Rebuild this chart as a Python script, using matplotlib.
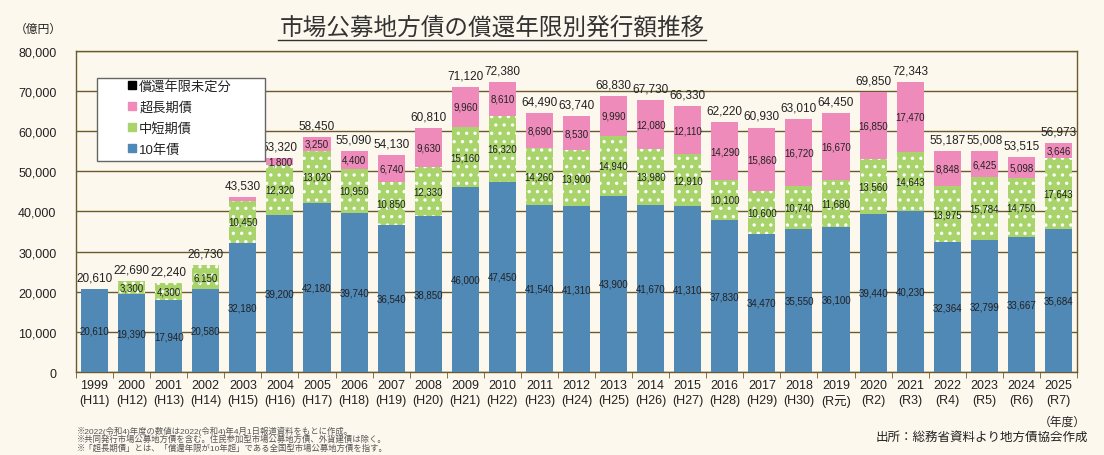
import numpy as np
import matplotlib
matplotlib.use("Agg")
import matplotlib.pyplot as plt
from matplotlib.lines import Line2D
from matplotlib.patches import Rectangle

plt.rcParams["font.family"] = ["Liberation Sans", "Noto Sans CJK JP", "DejaVu Sans"]
plt.rcParams["hatch.linewidth"] = 1.2

# --- data -----------------------------------------------------------------
YEARS = ["1999", "2000", "2001", "2002", "2003", "2004", "2005", "2006", "2007",
         "2008", "2009", "2010", "2011", "2012", "2013", "2014", "2015", "2016",
         "2017", "2018", "2019", "2020", "2021", "2022", "2023", "2024", "2025"]
ERAS = ["H11", "H12", "H13", "H14", "H15", "H16", "H17", "H18", "H19", "H20",
        "H21", "H22", "H23", "H24", "H25", "H26", "H27", "H28", "H29", "H30",
        "R元", "R2", "R3", "R4", "R5", "R6", "R7"]

TEN_YEAR = [20610, 19390, 17940, 20580, 32180, 39200, 42180, 39740, 36540,
            38850, 46000, 47450, 41540, 41310, 43900, 41670, 41310, 37830,
            34470, 35550, 36100, 39440, 40230, 32364, 32799, 33667, 35684]
MID_SHORT = [0, 3300, 4300, 6150, 10450, 12320, 13020, 10950, 10850,
             12330, 15160, 16320, 14260, 13900, 14940, 13980, 12910, 10100,
             10600, 10740, 11680, 13560, 14643, 13975, 15784, 14750, 17643]
SUPER_LONG = [0, 0, 0, 0, 900, 1800, 3250, 4400, 6740,
              9630, 9960, 8610, 8690, 8530, 9990, 12080, 12110, 14290,
              15860, 16720, 16670, 16850, 17470, 8848, 6425, 5098, 3646]
UNDECIDED = [0] * 27
TOTALS = [20610, 22690, 22240, 26730, 43530, 53320, 58450, 55090, 54130,
          60810, 71120, 72380, 64490, 63740, 68830, 67730, 66330, 62220,
          60930, 63010, 64450, 69850, 72343, 55187, 55008, 53515, 56973]

# --- style ----------------------------------------------------------------
BG = "#fdf8ee"
BLUE = "#5088b6"
GREEN = "#a9d46b"
PINK = "#ef8bba"
GRID = "#6b5a2c"
TXT = "#222222"
W, H = 1104, 456

fig = plt.figure(figsize=(W / 100, H / 100), dpi=100, facecolor=BG)
ax = fig.add_axes([76 / W, 1 - 373 / H, 1001 / W, 321 / H])
ax.set_facecolor(BG)

x = np.arange(len(YEARS))
ten = np.array(TEN_YEAR)
mid = np.array(MID_SHORT)
sup = np.array(SUPER_LONG)
und = np.array(UNDECIDED)
w = 0.73

ax.bar(x, ten, w, color=BLUE, zorder=3)
ax.bar(x, mid, w, bottom=ten, color=GREEN, edgecolor="white",
       linewidth=0, hatch="..", zorder=3)
ax.bar(x, sup, w, bottom=ten + mid, color=PINK, zorder=3)
ax.bar(x, und, w, bottom=ten + mid + sup, color="black", zorder=3)

# segment labels
for i in range(len(x)):
    ax.text(x[i], ten[i] / 2, f"{ten[i]:,}", ha="center", va="center",
            fontsize=7, color=TXT, zorder=5)
    if mid[i] > 0:
        ax.text(x[i], ten[i] + mid[i] / 2, f"{mid[i]:,}", ha="center",
                va="center", fontsize=7, color=TXT, zorder=5)
    if sup[i] >= 1500:
        ax.text(x[i], ten[i] + mid[i] + sup[i] / 2, f"{sup[i]:,}",
                ha="center", va="center", fontsize=7, color=TXT, zorder=5)
    ax.annotate(f"{TOTALS[i]:,}", (x[i], TOTALS[i]), xytext=(0, 4),
                textcoords="offset points", ha="center", va="bottom",
                fontsize=8.5, color=TXT, zorder=5)

ax.set_xlim(-0.5, len(x) - 0.5)
ax.set_ylim(0, 80000)
ax.set_yticks(np.arange(0, 80001, 10000))
ax.set_yticklabels([f"{v:,}" for v in range(0, 80001, 10000)],
                   fontsize=9, color=TXT)
ax.yaxis.grid(True, color=GRID, linewidth=1.0, zorder=0)
ax.tick_params(axis="y", length=0, pad=14)

ax.set_xticks(x)
ax.set_xticklabels([f"{y}\n({e})" for y, e in zip(YEARS, ERAS)],
                   fontsize=9, color=TXT, linespacing=1.3)
ax.tick_params(axis="x", length=0, pad=5)
ax.set_xticks(np.arange(-0.5, len(x), 1.0), minor=True)
ax.tick_params(axis="x", which="minor", length=4, color=GRID, direction="out")
for s in ax.spines.values():
    s.set_color(GRID)
    s.set_linewidth(1.0)

# legend: white box with gray border, entries indented
fig.add_artist(Rectangle((97 / W, 1 - 162 / H), 168 / W, 83 / H,
                         transform=fig.transFigure, facecolor="white",
                         edgecolor="#666666", linewidth=1.0, zorder=4))
handles = [
    Line2D([], [], marker="s", linestyle="none", markersize=6,
           markerfacecolor=c, markeredgecolor=c)
    for c in ["black", PINK, GREEN, BLUE]
]
labels = ["償還年限未定分", "超長期債", "中短期債", "10年債"]
leg = fig.legend(handles, labels, loc="upper left",
                 bbox_to_anchor=(128 / W, 1 - 81 / H), fontsize=9.5,
                 frameon=False, handlelength=0.6, handletextpad=0.25,
                 labelspacing=0.62, borderpad=0.0, borderaxespad=0)
leg.set_zorder(6)
for t in leg.get_texts():
    t.set_color(TXT)

# titles and notes
fig.text(492 / W, 1 - 28 / H, "市場公募地方債の償還年限別発行額推移",
         ha="center", va="center", fontsize=17, color="#333333")
fig.add_artist(Line2D([278 / W, 706 / W], [1 - 41 / H, 1 - 41 / H],
                      color="#333333", linewidth=1.0))
fig.text(15 / W, 1 - 30 / H, "（億円）", ha="left", va="center",
         fontsize=8.5, color=TXT)
fig.text(1062 / W, 1 - 423 / H, "（年度）", ha="center", va="center",
         fontsize=8.5, color=TXT)
fig.text(1088 / W, 1 - 438 / H, "出所：総務省資料より地方債協会作成",
         ha="right", va="center", fontsize=9, color=TXT)
notes = [
    "※2022(令和4)年度の数値は2022(令和4)年4月1日報道資料をもとに作成。",
    "※共同発行市場公募地方債を含む。住民参加型市場公募地方債、外貨建債は除く。",
    "※「超長期債」とは、「償還年限が10年超」である全国型市場公募地方債を指す。",
]
for k, n in enumerate(notes):
    fig.text(77 / W, 1 - (431 + 8.6 * k) / H, n, ha="left", va="center",
             fontsize=6, color="#555555")

fig.savefig("out.png", dpi=100, facecolor=BG)
